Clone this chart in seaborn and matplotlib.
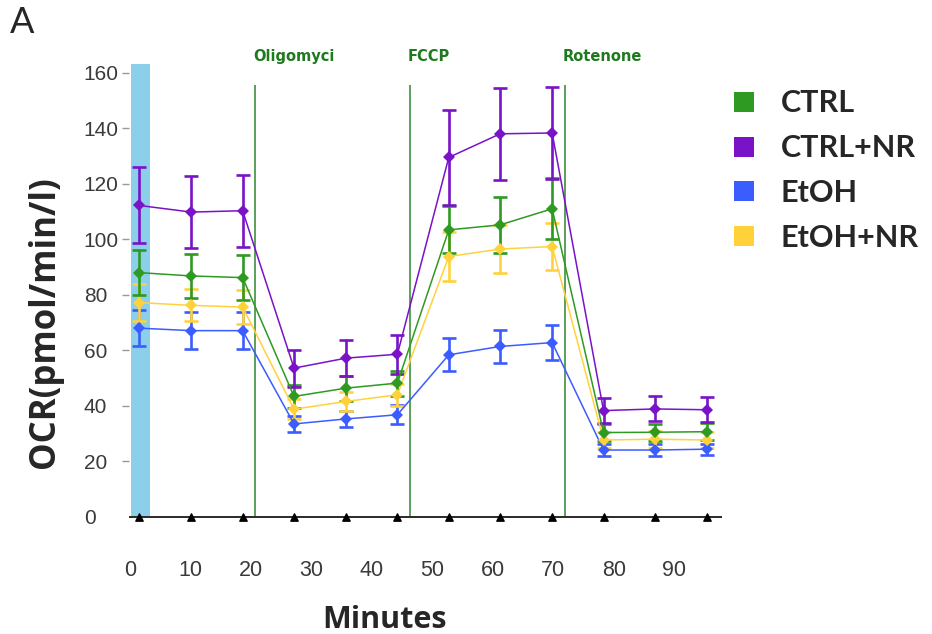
import numpy as np
import pandas as pd
import seaborn as sns
import matplotlib.pyplot as plt
from matplotlib.lines import Line2D

# measurement times (minutes) and mean OCR +/- error per group
times = [1.5, 10.1, 18.6, 27.1, 35.7, 44.2, 52.7, 61.2, 69.8, 78.3, 86.8, 95.4]

ctrl = [88.0, 86.8, 86.2, 43.4, 46.4, 48.2, 103.4, 105.2, 111.0, 30.4, 30.5, 30.7]
ctrl_err = [8.0, 8.0, 8.0, 4.0, 4.5, 4.5, 8.5, 10.0, 11.0, 3.0, 3.0, 3.0]
ctrl_nr = [112.2, 109.8, 110.3, 53.6, 57.2, 58.6, 129.5, 138.0, 138.3, 38.3, 38.9, 38.6]
ctrl_nr_err = [13.7, 13.0, 13.0, 6.7, 6.6, 7.0, 17.0, 16.6, 16.5, 4.5, 4.5, 4.5]
etoh = [68.0, 67.1, 67.1, 33.5, 35.3, 36.8, 58.4, 61.4, 62.8, 24.1, 24.1, 24.4]
etoh_err = [6.6, 6.6, 6.6, 3.0, 3.0, 3.5, 5.9, 5.8, 6.3, 2.0, 2.0, 2.0]
etoh_nr = [77.2, 76.2, 75.6, 38.8, 41.6, 44.0, 93.8, 96.5, 97.4, 27.7, 28.0, 27.7]
etoh_nr_err = [6.6, 5.8, 6.0, 3.5, 3.5, 4.0, 8.8, 8.6, 8.5, 3.0, 3.0, 3.0]

groups = ['CTRL', 'CTRL+NR', 'EtOH', 'EtOH+NR']
colors = {'CTRL': '#2e9a22', 'CTRL+NR': '#7a12c8', 'EtOH': '#3b5cff', 'EtOH+NR': '#ffd23c'}

injections = [20.7, 46.3, 71.9]
injection_names = ['Oligomyci', 'FCCP', 'Rotenone']
basal_band = (0.2, 3.3)

x_ticks = [0, 10, 20, 30, 40, 50, 60, 70, 80, 90]
y_ticks = [0, 20, 40, 60, 80, 100, 120, 140, 160]

means = {'CTRL': ctrl, 'CTRL+NR': ctrl_nr, 'EtOH': etoh, 'EtOH+NR': etoh_nr}
errs = {'CTRL': ctrl_err, 'CTRL+NR': ctrl_nr_err, 'EtOH': etoh_err, 'EtOH+NR': etoh_nr_err}

df = pd.concat([
    pd.DataFrame({'Minutes': times, 'OCR': means[g], 'err': errs[g], 'group': g})
    for g in groups
], ignore_index=True)

sns.set_style('white')
tick_font = ['Liberation Sans', 'DejaVu Sans']
label_font = ['Open Sans', 'DejaVu Sans']
legend_font = ['Lato', 'DejaVu Sans']

fig = plt.figure(figsize=(9.32, 6.34), dpi=100)
ax = fig.add_axes([0.1384, 0.1759, 0.6363, 0.7247])

draw_order = ['EtOH', 'EtOH+NR', 'CTRL', 'CTRL+NR']

# basal band and injection markers
ax.fill_betweenx([0, 163.3], *basal_band, color='#8ccfea', lw=0, zorder=0)
ax.vlines(injections, 0, 155.7, color='#3f8f3f', lw=1.2, zorder=1)
for x, name in zip(injections, injection_names):
    ax.text(x - 0.4, 166, name, color='#1f7a1f', fontsize=10.5, fontweight='bold',
            family=['DejaVu Sans'], ha='left', va='center', clip_on=False)

for g in draw_order:
    sub = df[df['group'] == g]
    ax.errorbar(sub['Minutes'], sub['OCR'], yerr=sub['err'], fmt='none',
                ecolor=colors[g], elinewidth=1.9, capsize=5, capthick=1.9, zorder=2)

sns.lineplot(data=df, x='Minutes', y='OCR', hue='group', hue_order=draw_order,
             palette=colors, marker='D', markersize=6.5, markeredgewidth=0,
             linewidth=1.1, errorbar=None, legend=False, ax=ax, zorder=3)

# baseline with time-point triangles
ax.axhline(0, color='#2a2a2a', lw=1.4, zorder=2)
ax.scatter(times, np.zeros(len(times)), marker='^', s=28, color='black', zorder=3, clip_on=False)

ax.set_xlim(-0.2, 97.9)
ax.set_ylim(-2, 163.5)
ax.set_xticks(x_ticks)
ax.set_yticks(y_ticks)
for sp in ax.spines.values():
    sp.set_visible(False)
ax.tick_params(axis='x', length=0, pad=27, labelsize=15.5, labelcolor='#3a3a3a')
ax.tick_params(axis='y', length=5, width=1, color='#999999', pad=27.5, labelsize=15,
               labelcolor='#3a3a3a', left=True)
for lab in ax.get_xticklabels():
    lab.set_family(tick_font)
for lab in ax.get_yticklabels():
    lab.set_family(tick_font)
    lab.set_horizontalalignment('left')
ax.yaxis.get_major_ticks()[0].tick1line.set_visible(False)

ax.set_xlabel('Minutes', fontsize=22, fontweight='bold', family=label_font)
ax.xaxis.set_label_coords(0.431, -0.18)
ax.set_ylabel('OCR(pmol/min/l)', fontsize=25, fontweight='bold', family=label_font)
ax.yaxis.set_label_coords(-0.112, 0.436)

handles = [Line2D([], [], ls='none', marker='s', markersize=15, color=colors[g],
                  markeredgewidth=0) for g in groups]
fig.legend(handles, groups, loc='upper left', bbox_to_anchor=(0.782, 0.859),
           frameon=False, handlelength=1.0, handletextpad=0.7, labelspacing=0.55,
           borderpad=0, borderaxespad=0,
           prop={'family': legend_font, 'weight': 'bold', 'size': 22})

fig.text(0.011, 0.99, 'A', fontsize=26, family=['Lato', 'DejaVu Sans'], va='top', ha='left')

plt.savefig('out.png', dpi=100)
